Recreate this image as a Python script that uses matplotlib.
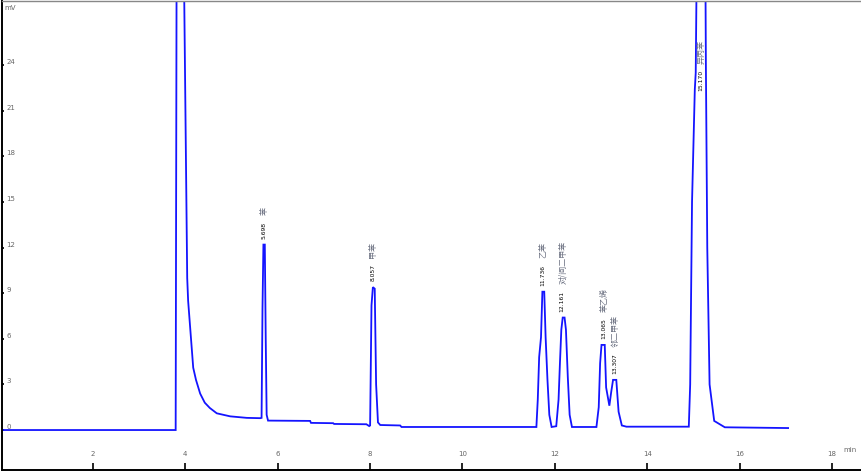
import matplotlib
matplotlib.use("Agg")
import matplotlib.pyplot as plt

plt.rcParams['font.family'] = ['DejaVu Sans', 'Noto Sans CJK SC']

# chromatogram trace (time in min, signal in mV)
trace_t = [0.00, 3.79, 3.81, 3.90, 3.97, 4.04, 4.06, 4.10, 4.14, 4.17, 4.23, 4.32,
           4.42, 4.53, 4.68, 4.97, 5.33, 5.62,
           5.65, 5.67, 5.69, 5.72, 5.74, 5.76, 5.79,
           6.70, 6.72, 7.20, 7.22, 7.92, 7.98,
           8.00, 8.03, 8.06, 8.10, 8.13, 8.17, 8.22, 8.65, 8.68,
           11.60, 11.63, 11.66, 11.70, 11.73, 11.77, 11.80, 11.84, 11.88, 11.93, 12.03,
           12.08, 12.11, 12.14, 12.17, 12.21, 12.24, 12.28, 12.32, 12.37, 12.90,
           12.95, 12.98, 13.01, 13.08, 13.11, 13.18,
           13.22, 13.26, 13.33, 13.38, 13.45, 13.55, 14.90,
           14.93, 14.97, 15.03, 15.05, 15.07, 15.16, 15.26, 15.27, 15.30, 15.35,
           15.45, 15.68, 17.05]
trace_mv = [0.00, 0.00, 30.0, 60.0, 30.0, 10.0, 8.5, 6.9, 5.3, 4.1, 3.3, 2.4,
            1.8, 1.45, 1.1, 0.9, 0.8, 0.78,
            0.80, 8.0, 12.2, 12.2, 6.0, 1.0, 0.62,
            0.60, 0.47, 0.45, 0.40, 0.38, 0.26,
            0.30, 8.2, 9.4, 9.3, 3.0, 0.5, 0.33, 0.30, 0.20,
            0.20, 2.0, 4.8, 6.1, 9.1, 9.1, 6.1, 3.3, 1.0, 0.20, 0.25,
            2.0, 4.4, 6.6, 7.4, 7.4, 6.6, 3.5, 1.0, 0.20, 0.20,
            1.5, 4.4, 5.6, 5.6, 2.8, 1.6,
            2.5, 3.3, 3.3, 1.2, 0.30, 0.22, 0.22,
            3.0, 15.0, 22.4, 23.5, 30.0, 60.0, 30.0, 24.0, 12.0, 3.0,
            0.60, 0.18, 0.13]

# peak annotations
peak_rt = [5.698, 8.057, 11.736, 12.161, 13.065, 13.307, 15.170]
peak_rt_labels = ["5.698", "8.057", "11.736", "12.161", "13.065", "13.307", "15.170"]
peak_names = ["苯", "甲苯", "乙苯", "对/间二甲苯", "苯乙烯", "邻二甲苯", "异丙苯"]
peak_label_mv = [12.2, 9.4, 9.1, 7.4, 5.6, 3.3, 21.9]

x_ticks = [2, 4, 6, 8, 10, 12, 14, 16, 18]
y_ticks = [0, 3, 6, 9, 12, 15, 18, 21, 24]

W, H = 862, 472
fig = plt.figure(figsize=(W / 100, H / 100), dpi=100)
ax = fig.add_axes([2 / W, 2 / H, (W - 2) / W, (H - 2.5) / H])

ax.plot(trace_t, trace_mv, color='#1414ff', lw=1.3, solid_joinstyle='miter')

ax.set_xlim(0.03, 18.65)
ax.set_ylim(-2.63, 28.26)

for s in ['right']:
    ax.spines[s].set_visible(False)
ax.spines['top'].set_color('#888888')
ax.spines['top'].set_linewidth(1.0)
ax.spines['left'].set_linewidth(1.4)
ax.spines['bottom'].set_linewidth(1.4)

ax.set_xticks(x_ticks)
ax.set_yticks(y_ticks)
ax.set_xticklabels([str(v) for v in x_ticks])
ax.set_yticklabels([str(v) for v in y_ticks])
ax.tick_params(axis='x', direction='in', length=5, width=1.2, pad=-9.5,
               labelsize=5, labelcolor='#666666')
ax.tick_params(axis='y', direction='in', length=1.5, width=1.2, pad=-3,
               labelsize=5, labelcolor='#666666')
for lab in ax.get_xticklabels():
    lab.set_va('bottom')
for lab in ax.get_yticklabels():
    lab.set_ha('left')
    lab.set_va('bottom')

ax.text(4 / W, 1 - 8 / H, "mV", transform=fig.transFigure, fontsize=5,
        color='#666666', ha='left', va='center')
ax.text(843 / W, 1 - 450 / H, "min", transform=fig.transFigure, fontsize=5,
        color='#666666', ha='left', va='center')

for rt, lab, name, mv in zip(peak_rt, peak_rt_labels, peak_names, peak_label_mv):
    t_num = ax.annotate(lab, xy=(rt, mv), xytext=(0, 4.3), textcoords='offset points',
                        rotation=90, ha='center', va='bottom', fontsize=4.3,
                        color='black')
    ax.annotate(name, xy=(0.5, 1.0), xycoords=t_num, xytext=(0, 4.5),
                textcoords='offset points', rotation=90, ha='center', va='bottom',
                fontsize=5.8, color='#6a6f80',
                family=['Noto Sans CJK SC', 'DejaVu Sans'])

fig.savefig("out.png", dpi=100)
